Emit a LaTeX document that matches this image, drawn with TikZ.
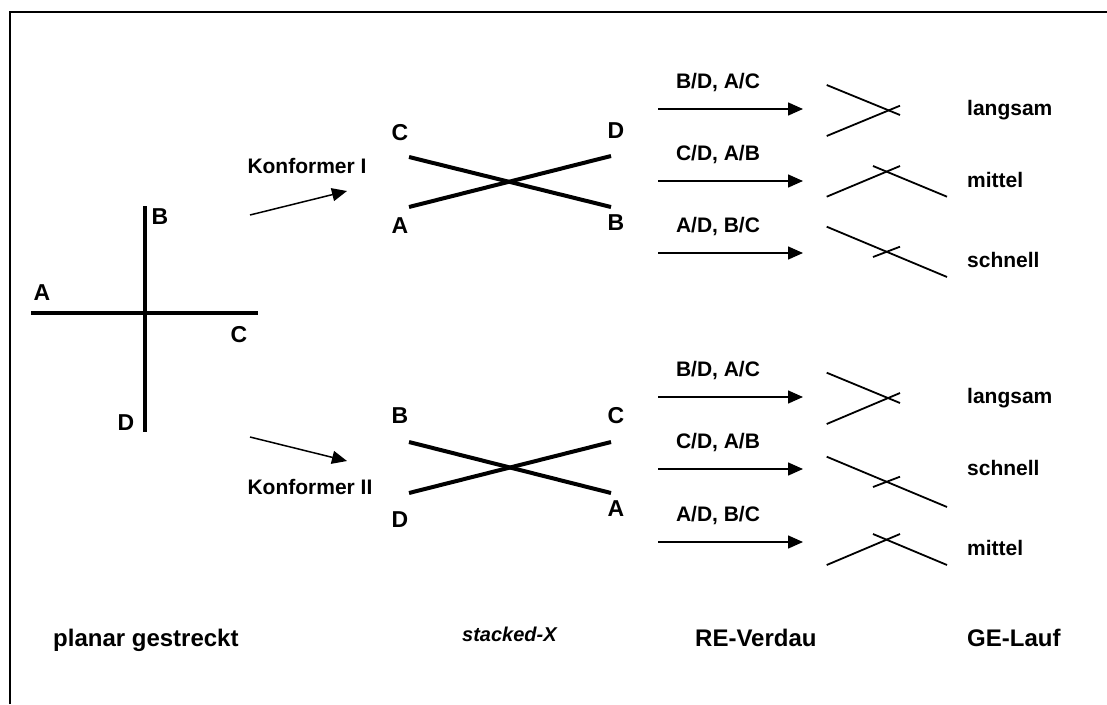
\documentclass[tikz,border=0pt]{standalone}
\usepackage{fontspec}
\setmainfont{Liberation Sans}
\usetikzlibrary{arrows.meta}
\begin{document}
\begin{tikzpicture}[x=1pt,y=-1pt,
  frame/.style={line width=2pt},
  bond/.style={line width=4pt},
  band/.style={line width=1.8pt},
  conn/.style={line width=1.5pt,-{Triangle[length=15pt,width=13pt]}},
  letter/.style={font=\fontsize{23}{23}\selectfont\bfseries,inner sep=0pt,anchor=center},
  caption/.style={font=\fontsize{24}{24}\selectfont\bfseries,inner sep=0pt,anchor=base west},
  side/.style={font=\fontsize{21}{21}\selectfont\bfseries,inner sep=0pt,anchor=base west},
  enzyme/.style={font=\fontsize{21}{21}\selectfont\bfseries,inner sep=0pt,anchor=base}]
\useasboundingbox (0,0) rectangle (1107,704);
% frame
\draw[frame] (10,704) -- (10,12) -- (1107,12);
% planar cross
\coordinate (hA) at (31,313);
\coordinate (hC) at (258,313);
\coordinate (vB) at (145,206);
\coordinate (vD) at (145,432);
\draw[bond] (hA) -- (hC);
\draw[bond] (vB) -- (vD);
\node[letter] (lA) at (42,293) {A};
\node[letter] (lB) at (160,217) {B};
\node[letter] (lC) at (239,335) {C};
\node[letter] (lD) at (126,423) {D};
% Konformer arrows
\coordinate (k1s) at (250,215);
\coordinate (k1e) at (347,191);
\coordinate (k2s) at (250,437);
\coordinate (k2e) at (347,461);
\draw[conn] (k1s) -- (k1e);
\draw[conn] (k2s) -- (k2e);
\node[enzyme] (kI) at (307,173) {Konformer I};
\node[enzyme] (kII) at (310,494) {Konformer II};
% stacked X I
\coordinate (aC) at (409,157);
\coordinate (aB) at (611,207);
\coordinate (aA) at (409,207);
\coordinate (aD) at (611,156);
\draw[bond] (aC) -- (aB);
\draw[bond] (aA) -- (aD);
\node[letter] (laC) at (400,133) {C};
\node[letter] (laD) at (616,131) {D};
\node[letter] (laA) at (400,226) {A};
\node[letter] (laB) at (616,223) {B};
% stacked X II
\coordinate (bB) at (409,442);
\coordinate (bA) at (611,493);
\coordinate (bD) at (409,493);
\coordinate (bC) at (611,442);
\draw[bond] (bB) -- (bA);
\draw[bond] (bD) -- (bC);
\node[letter] (lbB) at (400,416) {B};
\node[letter] (lbC) at (616,416) {C};
\node[letter] (lbD) at (400,520) {D};
\node[letter] (lbA) at (616,509) {A};
% RE arrows
\foreach \y/\t [count=\i] in {109/{B/D, A/C},181/{C/D, A/B},253/{A/D, B/C},397/{B/D, A/C},469/{C/D, A/B},542/{A/D, B/C}}{
  \coordinate (rs\i) at (658,\y);
  \coordinate (re\i) at (803,\y);
  \draw[conn] (rs\i) -- (re\i);
  \node[enzyme] (rl\i) at (718,\y-21) {\t};
}
% GE bands
\draw[band] (826.7,85) -- (900,115);
\draw[band] (826.7,136) -- (900,105.7);
\draw[band] (826.7,196.7) -- (900,166);
\draw[band] (873,166) -- (947,196.7);
\draw[band] (826.7,226.7) -- (947,277);
\draw[band] (873,257) -- (900,246.7);
\draw[band] (826.7,372.7) -- (900,403);
\draw[band] (826.7,424) -- (900,393);
\draw[band] (826.7,456.7) -- (947,507);
\draw[band] (873,487) -- (900,476.7);
\draw[band] (826.7,565) -- (900,534);
\draw[band] (873,534) -- (947,565);
\node[side] (g1) at (967,115) {langsam};
\node[side] (g2) at (967,187) {mittel};
\node[side] (g3) at (967,267) {schnell};
\node[side] (g4) at (967,403) {langsam};
\node[side] (g5) at (967,475) {schnell};
\node[side] (g6) at (967,555) {mittel};
% captions
\node[caption] (c1) at (53,646) {planar gestreckt};
\node[caption,font=\fontsize{20}{20}\selectfont\bfseries\itshape] (c2) at (462,641) {stacked-X};
\node[caption] (c3) at (695,646) {RE-Verdau};
\node[caption] (c4) at (967,646) {GE-Lauf};
\end{tikzpicture}
\end{document}
